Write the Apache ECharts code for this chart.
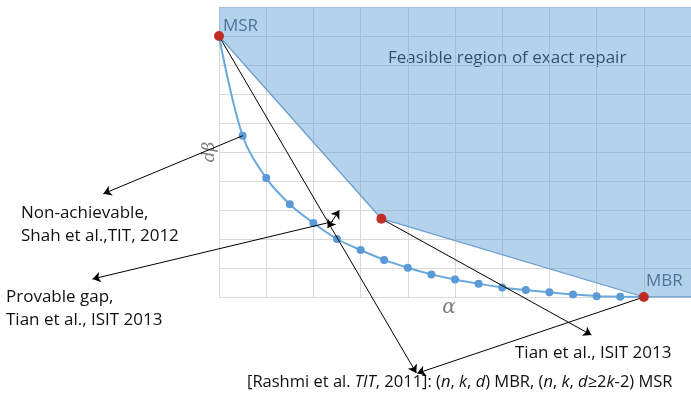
<!DOCTYPE html>
<html><head><meta charset="utf-8">
<script src="https://cdn.jsdelivr.net/npm/echarts@6/dist/echarts.min.js"></script>
<style>html,body{margin:0;padding:0;background:#fff}#c{width:691px;height:401px}</style>
</head><body><div id="c"></div>
<script>
// Feasible region polygon (alpha, d*beta)
const regionX = [0, 10, 10, 9, 3.44, 0];
const regionY = [10, 10, 0, 0, 2.7, 9];
// Lower boundary of feasible region
const boundX = [0, 3.44, 9, 10];
const boundY = [9, 2.7, 0, 0];
// Functional repair tradeoff curve
const curveX = [0, 0.5, 1, 1.5, 2, 2.5, 3, 3.5, 4, 4.5, 5, 5.5, 6, 6.5, 7, 7.5, 8, 8.5, 9];
const curveY = [9, 5.56, 4.1, 3.2, 2.55, 2.0, 1.62, 1.28, 1.01, 0.78, 0.6, 0.46, 0.33, 0.24, 0.16, 0.09, 0.03, 0.01, 0];
// Corner points (MSR, middle, MBR)
const cornerX = [0, 3.44, 9];
const cornerY = [9, 2.7, 0];
// Annotation arrows: [x1, y1, x2, y2]
const arrowSingle = [
  [0, 9, 4.18, -2.62],
  [9, 0, 4.2, -2.63],
  [3.44, 2.7, 7.89, -1.31],
  [0.5, 5.56, -2.45, 3.56],
  [2.41, 2.6, -2.68, 0.62]
];
const arrowDouble = [[2.3, 2.38, 2.55, 2.99]];

const chart = echarts.init(document.getElementById('c'), null, {renderer: 'canvas'});
const font = '"Open Sans"';
chart.setOption({
  animation: false,
  grid: {left: 219, top: 7, width: 474, height: 290, containLabel: false},
  xAxis: {type: 'value', min: 0, max: 10, interval: 1,
    axisLine: {show: false}, axisTick: {show: false}, axisLabel: {show: false},
    splitLine: {show: true, lineStyle: {color: '#d9d9d9', width: 1}}},
  yAxis: {type: 'value', min: 0, max: 10, interval: 1,
    axisLine: {show: false}, axisTick: {show: false}, axisLabel: {show: false},
    splitLine: {show: true, lineStyle: {color: '#d9d9d9', width: 1}}},
  series: [
    {type: 'custom', z: 1, clip: false,
      data: regionX.map((x, i) => [x, regionY[i]]),
      renderItem: function (params, api) {
        if (params.dataIndex !== 0) return;
        const pts = regionX.map((x, i) => api.coord([x, regionY[i]]));
        return {type: 'polygon', shape: {points: pts}, style: {fill: 'rgba(91,155,213,0.45)', stroke: 'none'}};
      }},
    {type: 'line', z: 2, data: boundX.map((x, i) => [x, boundY[i]]), symbol: 'none',
      lineStyle: {color: '#6b9fcf', width: 1.3}},
    {type: 'line', z: 3, smooth: 0.35, data: curveX.map((x, i) => [x, curveY[i]]),
      symbol: 'circle', symbolSize: 8, showSymbol: true,
      lineStyle: {color: '#6aa8dd', width: 2}, itemStyle: {color: '#5b9bd5'}},
    {type: 'lines', coordinateSystem: 'cartesian2d', z: 4, clip: false,
      symbol: ['none', 'arrow'], symbolSize: 8,
      lineStyle: {color: '#000', width: 1, opacity: 1},
      data: arrowSingle.map(a => ({coords: [[a[0], a[1]], [a[2], a[3]]]}))},
    {type: 'lines', coordinateSystem: 'cartesian2d', z: 4, clip: false,
      symbol: ['arrow', 'arrow'], symbolSize: 8,
      lineStyle: {color: '#000', width: 1, opacity: 1},
      data: arrowDouble.map(a => ({coords: [[a[0], a[1]], [a[2], a[3]]]}))},
    {type: 'scatter', z: 5, data: cornerX.map((x, i) => [x, cornerY[i]]),
      symbolSize: 10, itemStyle: {color: '#c3261c', opacity: 0.95}}
  ],
  graphic: [
    {type: 'text', left: 223, top: 18, style: {text: 'MSR', font: '17px ' + font, fill: '#44546a'}},
    {type: 'text', left: 646, top: 273, style: {text: 'MBR', font: '17px ' + font, fill: '#44546a'}},
    {type: 'text', left: 388, top: 50, style: {text: 'Feasible region of exact repair', font: '17px ' + font, fill: '#111'}},
    {type: 'text', x: 210, y: 152, rotation: Math.PI / 2,
      style: {text: 'dβ', font: 'italic 17px "DejaVu Serif"', fill: '#7f7f7f', align: 'center', verticalAlign: 'middle'}},
    {type: 'text', x: 449, y: 308,
      style: {text: 'α', font: 'italic 20px "DejaVu Serif"', fill: '#7f7f7f', align: 'center', verticalAlign: 'middle'}},
    {type: 'text', left: 21, top: 202, style: {text: 'Non-achievable,\nShah et al.,TIT, 2012', font: '17px ' + font, lineHeight: 23, fill: '#111'}},
    {type: 'text', left: 6, top: 286, style: {text: 'Provable gap,\nTian et al., ISIT 2013', font: '17px ' + font, lineHeight: 23, fill: '#111'}},
    {type: 'text', left: 515, top: 345, style: {text: 'Tian et al., ISIT 2013', font: '17px ' + font, fill: '#111'}},
    {type: 'text', left: 247, top: 374, style: {
      text: '[Rashmi et al. {i|TIT}, 2011]: ({i|n}, {i|k}, {i|d}) MBR, ({i|n}, {i|k}, {i|d}≥2{i|k}-2) MSR',
      font: '16.5px ' + font, fill: '#111',
      rich: {i: {fontStyle: 'italic', fontFamily: 'Open Sans', fontSize: 16.5, fill: '#111'}}}}
  ]
});
</script>
</body></html>
